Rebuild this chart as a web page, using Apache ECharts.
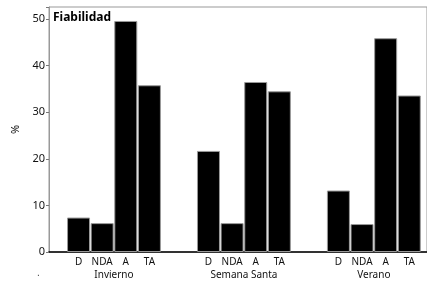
<!DOCTYPE html>
<html>
<head>
<meta charset="UTF-8">
<title>Fiabilidad</title>
<style>
    html, body { margin: 0; padding: 0; background: #fff; }
    #chartArea { width: 427px; height: 281px; }
</style>
</head>
<body>
<div id="chartArea"></div>
<script src="https://cdn.jsdelivr.net/npm/echarts@6/dist/echarts.min.js"></script>
<script>
var groups = ['Invierno', 'Semana Santa', 'Verano'];
var answers = ['D', 'NDA', 'A', 'TA'];
var invierno = [7.4, 6.2, 49.6, 35.8];
var semanaSanta = [21.7, 6.2, 36.5, 34.5];
var verano = [13.2, 6.0, 45.9, 33.6];
var yTicks = [0, 10, 20, 30, 40, 50];

// half-width slots on one category axis, so groups can sit 5.5 bars apart
var nSlots = 32;
var allValues = [invierno, semanaSanta, verano];
var answerLabels = [], groupLabels = [], barData = [];
for (var k = 0; k < nSlots; k++) {
    answerLabels.push('');
    groupLabels.push('');
    barData.push('-');
}
for (var g = 0; g < groups.length; g++) {
    var start = 2 + g * 11;
    for (var i = 0; i < answers.length; i++) {
        answerLabels[start + 2 * i] = answers[i];
        barData[start + 2 * i] = allValues[g][i];
    }
    groupLabels[start + 3] = groups[g];
}

var myChart = echarts.init(document.getElementById('chartArea'));
myChart.setOption({
    animation: false,
    textStyle: { fontFamily: 'Noto Sans' },
    title: {
        text: 'Fiabilidad',
        left: 53,
        top: 12,
        padding: 0,
        textStyle: { fontSize: 12, fontWeight: 'bold', color: '#000', fontFamily: 'Noto Sans' }
    },
    grid: {
        left: 49, right: -2, top: 7, bottom: 29,
        show: true, borderColor: '#999', borderWidth: 1
    },
    xAxis: [
        {
            type: 'category',
            data: answerLabels,
            axisLine: { lineStyle: { color: '#000', width: 1.5 } },
            axisTick: { show: false },
            axisLabel: { interval: 0, fontSize: 10, color: '#111', margin: 5 }
        },
        {
            type: 'category',
            data: groupLabels,
            position: 'bottom',
            offset: 13,
            axisLine: { show: false },
            axisTick: { show: false },
            axisLabel: { interval: 0, fontSize: 10, color: '#111', margin: 5 }
        }
    ],
    yAxis: {
        type: 'value',
        min: 0,
        max: 52.6,
        interval: 10,
        name: '%',
        nameLocation: 'middle',
        nameGap: 27,
        nameTextStyle: { fontSize: 11, color: '#111' },
        splitLine: { show: false },
        axisLine: { show: true, lineStyle: { color: '#999' } },
        axisTick: { show: true, length: 3, lineStyle: { color: '#777' } },
        axisLabel: {
            fontSize: 11, color: '#111', margin: 4,
            formatter: function (v) { return yTicks.indexOf(v) >= 0 ? String(v) : ''; }
        }
    },
    graphic: [
        { type: 'text', left: 37, top: 268, style: { text: '.', fontSize: 10, fill: '#444' } }
    ],
    series: [
        {
            type: 'bar',
            xAxisIndex: 0,
            data: barData,
            barWidth: 23,
            itemStyle: { color: '#000', borderColor: '#999', borderWidth: 1 }
        }
    ]
});
</script>
</body>
</html>
